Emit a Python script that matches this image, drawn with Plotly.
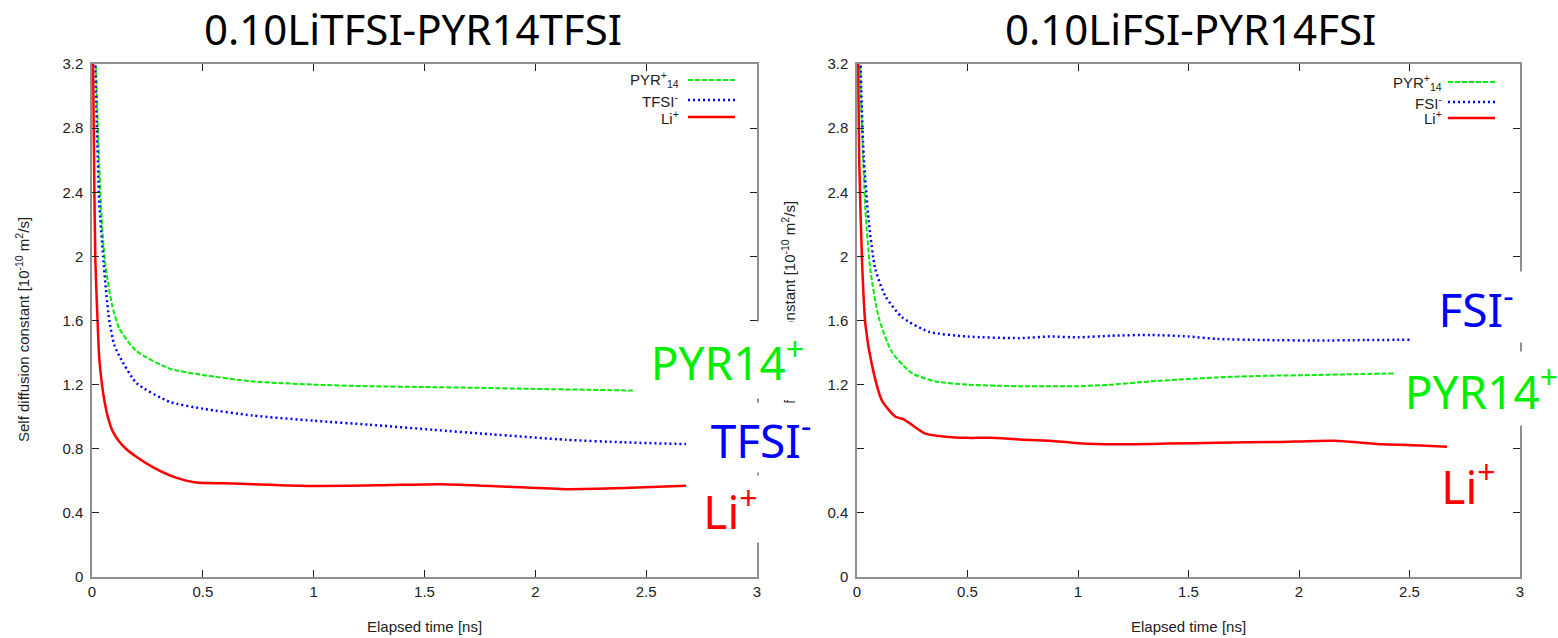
import plotly.graph_objects as go

# ---------------- data ----------------
# Left panel: 0.10LiTFSI-PYR14TFSI
t_pyr_L = [0, 0.01, 0.02, 0.026, 0.04, 0.05, 0.063, 0.09, 0.123, 0.2, 0.35, 0.5, 0.725, 1.0, 1.25, 1.5, 1.75, 2.0, 2.25, 2.44]
d_pyr_L = [4.5, 3.6, 3.1, 2.82, 2.33, 2.1, 1.92, 1.7, 1.55, 1.41, 1.30, 1.26, 1.22, 1.20, 1.19, 1.185, 1.18, 1.173, 1.168, 1.163]

t_an_L = [0, 0.01, 0.02, 0.033, 0.05, 0.063, 0.078, 0.1, 0.123, 0.2, 0.35, 0.5, 0.725, 1.0, 1.25, 1.54, 1.8, 2.14, 2.4, 2.68]
d_an_L = [4.5, 3.5, 2.9, 2.33, 2.0, 1.79, 1.6, 1.45, 1.38, 1.21, 1.093, 1.05, 1.007, 0.975, 0.95, 0.918, 0.89, 0.856, 0.84, 0.829]

t_li_L = [0, 0.005, 0.01, 0.015, 0.025, 0.033, 0.045, 0.056, 0.075, 0.093, 0.12, 0.153, 0.2, 0.274, 0.379, 0.47, 0.6, 0.725, 1.0, 1.3, 1.57, 1.85, 2.14, 2.4, 2.68]
d_li_L = [4.5, 3.2, 2.5, 1.98, 1.6, 1.36, 1.2, 1.10, 0.98, 0.91, 0.85, 0.80, 0.75, 0.686, 0.62, 0.589, 0.585, 0.579, 0.568, 0.572, 0.579, 0.565, 0.548, 0.555, 0.569]

# Right panel: 0.10LiFSI-PYR14FSI
t_an_R = [0, 0.01, 0.02, 0.03, 0.053, 0.083, 0.129, 0.204, 0.325, 0.5, 0.734, 0.873, 1.0, 1.15, 1.326, 1.5, 1.63, 1.85, 2.08, 2.3, 2.5]
d_an_R = [4.5, 3.6, 3.0, 2.63, 2.22, 1.92, 1.75, 1.62, 1.53, 1.50, 1.49, 1.50, 1.495, 1.505, 1.51, 1.50, 1.485, 1.478, 1.475, 1.478, 1.48]

t_pyr_R = [0, 0.01, 0.02, 0.038, 0.06, 0.098, 0.159, 0.25, 0.355, 0.5, 0.734, 0.873, 1.0, 1.15, 1.326, 1.5, 1.63, 1.85, 2.08, 2.25, 2.43]
d_pyr_R = [4.5, 3.5, 2.9, 2.29, 1.92, 1.62, 1.40, 1.27, 1.22, 1.20, 1.19, 1.19, 1.19, 1.20, 1.22, 1.235, 1.245, 1.255, 1.26, 1.265, 1.27]

t_li_R = [0, 0.005, 0.01, 0.023, 0.038, 0.068, 0.113, 0.174, 0.21, 0.25, 0.31, 0.4, 0.5, 0.6, 0.734, 0.873, 1.0, 1.175, 1.4, 1.63, 1.9, 2.16, 2.38, 2.55, 2.67]
d_li_R = [4.5, 3.3, 2.6, 1.96, 1.575, 1.32, 1.10, 1.0, 0.985, 0.948, 0.894, 0.875, 0.868, 0.868, 0.858, 0.85, 0.835, 0.828, 0.832, 0.838, 0.842, 0.85, 0.828, 0.82, 0.812]

x_ticks = [0, 0.5, 1, 1.5, 2, 2.5, 3]
x_ticklabels = ["0", "0.5", "1", "1.5", "2", "2.5", "3"]
y_ticks = [0, 0.4, 0.8, 1.2, 1.6, 2.0, 2.4, 2.8, 3.2]
y_ticklabels_L = ["0", "0.4", "0.8", "1.2", "1.6", "2", "2.4", "2.8", "3.2"]
y_ticklabels_R = ["0", "0.4", "", "1.2", "1.6", "2", "2.4", "2.8", "3.2"]

titles = ["0.10LiTFSI-PYR14TFSI", "0.10LiFSI-PYR14FSI"]
legend_L = ["PYR<sup>+</sup><sub>14</sub>", "TFSI<sup>-</sup>", "Li<sup>+</sup>"]
legend_R = ["PYR<sup>+</sup><sub>14</sub>", "FSI<sup>-</sup>", "Li<sup>+</sup>"]

# ---------------- styling ----------------
W, H = 1558, 638
GREEN, BLUE, RED = "#00ee00", "#0000ff", "#ff0000"
green_line = dict(color=GREEN, width=2, dash="5px,2px")
blue_line = dict(color=BLUE, width=2.5, dash="2px,3px")
red_line = dict(color=RED, width=2.5)

def px(x):
    return x / W

def py(y):
    return 1 - y / H

fig = go.Figure()
series = [
    (t_pyr_L, d_pyr_L, green_line, "x", "y"),
    (t_an_L, d_an_L, blue_line, "x", "y"),
    (t_li_L, d_li_L, red_line, "x", "y"),
    (t_pyr_R, d_pyr_R, green_line, "x2", "y2"),
    (t_an_R, d_an_R, blue_line, "x2", "y2"),
    (t_li_R, d_li_R, red_line, "x2", "y2"),
]
for tx, dy, ln, xa, ya in series:
    fig.add_trace(go.Scatter(x=tx, y=dy, mode="lines", line=dict(shape="spline", smoothing=0.6, **ln),
                             xaxis=xa, yaxis=ya, showlegend=False, hoverinfo="skip"))

FONT = "Liberation Sans, Arial, sans-serif"
tickfont = dict(family=FONT, size=15, color="#222")
axis_common = dict(showline=True, linecolor="#8f8f8f", linewidth=1.5, mirror="ticks",
                   ticks="inside", ticklen=7, tickwidth=1.3, tickcolor="#222",
                   showgrid=False, zeroline=False, tickfont=tickfont, fixedrange=True,
                   automargin=False)

ydom = [py(577), py(64)]
fig.update_layout(
    width=W, height=H,
    margin=dict(l=0, r=0, t=0, b=0, pad=0),
    paper_bgcolor="white", plot_bgcolor="white",
    xaxis=dict(domain=[px(92), px(757)], range=[0, 3], tickvals=x_ticks, ticktext=x_ticklabels, anchor="y", **axis_common),
    yaxis=dict(domain=ydom, range=[0, 3.2], tickvals=y_ticks, ticktext=y_ticklabels_L, anchor="x",
               ticklabelstandoff=4, **axis_common),
    xaxis2=dict(domain=[px(857), px(1520)], range=[0, 3], tickvals=x_ticks, ticktext=x_ticklabels, anchor="y2", **axis_common),
    yaxis2=dict(domain=ydom, range=[0, 3.2], tickvals=y_ticks, ticktext=y_ticklabels_R, anchor="x2",
                ticklabelstandoff=4, **axis_common),
)

ann = []
small = dict(family=FONT, size=15, color="#222")
ytitle = "Self diffusion constant [10<sup>-10</sup> m<sup>2</sup>/s]"
# axis titles
ann.append(dict(text=ytitle, x=px(22), y=py(330), xref="paper", yref="paper", textangle=-90,
                showarrow=False, font=small, xanchor="center", yanchor="middle"))
ann.append(dict(text=ytitle, x=px(788), y=py(313), xref="paper", yref="paper", textangle=-90,
                showarrow=False, font=small, xanchor="center", yanchor="middle"))
ann.append(dict(text="Elapsed time [ns]", x=px(424.5), y=py(626), xref="paper", yref="paper",
                showarrow=False, font=small, xanchor="center", yanchor="middle"))
ann.append(dict(text="Elapsed time [ns]", x=px(1188.5), y=py(626), xref="paper", yref="paper",
                showarrow=False, font=small, xanchor="center", yanchor="middle"))
# panel titles
tfont = dict(family="Noto Sans, DejaVu Sans, sans-serif", size=42, color="black")
ann.append(dict(text=titles[0], x=px(413), y=py(29), xref="paper", yref="paper", showarrow=False,
                font=tfont, xanchor="center", yanchor="middle"))
ann.append(dict(text=titles[1], x=px(1190), y=py(29), xref="paper", yref="paper", showarrow=False,
                font=tfont, xanchor="center", yanchor="middle"))

# in-plot legends (gnuplot style: text then sample line)
shapes = []
leg_styles = [green_line, blue_line, red_line]
for labels, xr, xs0, xs1, rows in [
    (legend_L, 681, 688, 735, [80, 100, 117]),
    (legend_R, 1444, 1448, 1495, [82, 102, 118]),
]:
    for lab, st, yy in zip(labels, leg_styles, rows):
        ann.append(dict(text=lab, x=px(xr), y=py(yy), xref="paper", yref="paper", showarrow=False,
                        font=dict(family=FONT, size=15, color="#222"),
                        xanchor="right", yanchor="middle"))
        shapes.append(dict(type="line", xref="paper", yref="paper", x0=px(xs0), x1=px(xs1),
                           y0=py(yy), y1=py(yy), line=st))

# large overlay labels on white patches (x0, x1, y0, y1 of the white patch in pixels)
bigfont = "Comic Sans MS, Noto Sans, DejaVu Sans, sans-serif"
big = [
    ("PYR14<sup>+</sup>", GREEN, 640, 815, 322, 398),
    ("TFSI<sup>-</sup>", BLUE, 697, 825, 403, 472),
    ("Li<sup>+</sup>", RED, 695, 766, 476, 542),
    ("FSI<sup>-</sup>", BLUE, 1420, 1532, 272, 342),
    ("PYR14<sup>+</sup>", GREEN, 1405, 1558, 352, 425),
    ("Li<sup>+</sup>", RED, 1435, 1502, 452, 515),
]
for txt, col, x0, x1, y0, y1 in big:
    ann.append(dict(text=txt, x=px((x0 + x1) / 2), y=py((y0 + y1) / 2), xref="paper", yref="paper",
                    showarrow=False, font=dict(family=bigfont, size=46, color=col),
                    bgcolor="white", borderpad=0, width=x1 - x0, height=y1 - y0,
                    align="center", valign="middle", xanchor="center", yanchor="middle"))

fig.update_layout(annotations=ann, shapes=shapes)
fig.write_html("out.html")
